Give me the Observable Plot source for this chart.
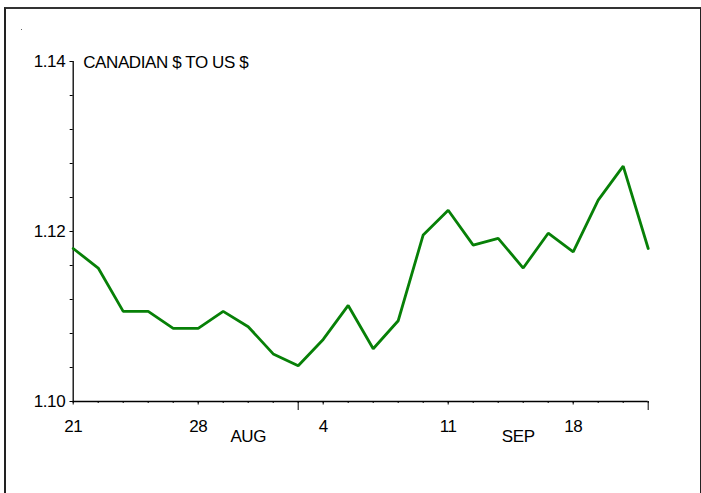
<!DOCTYPE html>
<html>
<head>
<meta charset="utf-8">
<script src="https://cdn.jsdelivr.net/npm/d3@7"></script>
<script src="https://cdn.jsdelivr.net/npm/@observablehq/plot@0.6"></script>
<style>
  html, body { margin: 0; padding: 0; background: #fff; }
  #wrap { position: relative; width: 701px; height: 493px; overflow: hidden; }
  #frame { position: absolute; left: 4px; top: 7px; width: 697px; height: 520px;
           box-sizing: border-box; border-left: 2px solid #222; border-top: 2px solid #333;
           border-right: 1px solid #222; pointer-events: none; }
  #speck { position: absolute; left: 21px; top: 29px; width: 1px; height: 1px; background: #666; }
  svg { position: absolute; left: 0; top: 0; }
  svg text { letter-spacing: -0.4px; }
</style>
</head>
<body>
<div id="wrap"><div id="frame"></div><div id="speck"></div></div>
<script>
// ---- data ----
const title = "CANADIAN $ TO US $";
const dayIndex = [0,1,2,3,4,5,6,7,8,9,10,11,12,13,14,15,16,17,18,19,20,21,22,23];
const rates = [1.1180,1.1157,1.1106,1.1106,1.1086,1.1086,1.1106,1.1088,1.1056,1.1042,
               1.1073,1.1113,1.1062,1.1095,1.1196,1.1225,1.1184,1.1192,1.1157,1.1198,
               1.1176,1.1237,1.1277,1.1180];
const xLabelIdx = [0,5,10,15,20];
const xLabels = ["21","28","4","11","18"];
const monthTickIdx = [9,23];
const monthLabels = ["AUG","SEP"];
const monthLabelPos = [7.0,17.8];
const yMajor = [1.10,1.12,1.14];
const yMinor = [1.10,1.104,1.108,1.112,1.116,1.12,1.124,1.128,1.132,1.136,1.14];

const data = dayIndex.map((d,i) => ({i: d, v: rates[i]}));
const months = monthLabels.map((m,i) => ({m, x: monthLabelPos[i]}));
const font = "'Liberation Sans', Arial, sans-serif";

const chart = Plot.plot({
  width: 701, height: 493,
  marginLeft: 72.7, marginRight: 53.3, marginTop: 61, marginBottom: 92,
  style: {fontFamily: font, fontSize: "17px", color: "#000", background: "transparent"},
  x: {domain: [0, 23]},
  y: {domain: [1.10, 1.14]},
  marks: [
    Plot.ruleX([0], {stroke: "#000", strokeWidth: 1.3}),
    Plot.ruleY([1.10], {stroke: "#000", strokeWidth: 1.3}),
    Plot.axisY({ticks: yMinor, tickSize: 3, tickFormat: () => "", label: null}),
    Plot.axisY({ticks: yMajor, tickSize: 3, tickPadding: 5, tickFormat: d3.format(".2f"), label: null, fontSize: 17}),
    Plot.axisX({ticks: dayIndex, tickSize: 2, tickFormat: () => "", label: null}),
    Plot.axisX({ticks: xLabelIdx, tickSize: 3.5, tickPadding: 14.5, tickFormat: (d) => xLabels[xLabelIdx.indexOf(d)], label: null, fontSize: 17}),
    Plot.axisX({ticks: monthTickIdx, tickSize: 9, tickFormat: () => "", label: null}),
    Plot.text(months, {x: "x", y: () => 1.10, text: "m", dy: 35, lineAnchor: "middle", fontSize: 17}),
    Plot.text([title], {x: () => 0, y: () => 1.14, text: d => d, textAnchor: "start", dx: 10, dy: 1, lineAnchor: "middle", fontSize: 17}),
    Plot.line(data, {x: "i", y: "v", stroke: "#078007", strokeWidth: 2.8, strokeLinejoin: "miter"})
  ]
});
document.getElementById("wrap").prepend(chart);
</script>
</body>
</html>
